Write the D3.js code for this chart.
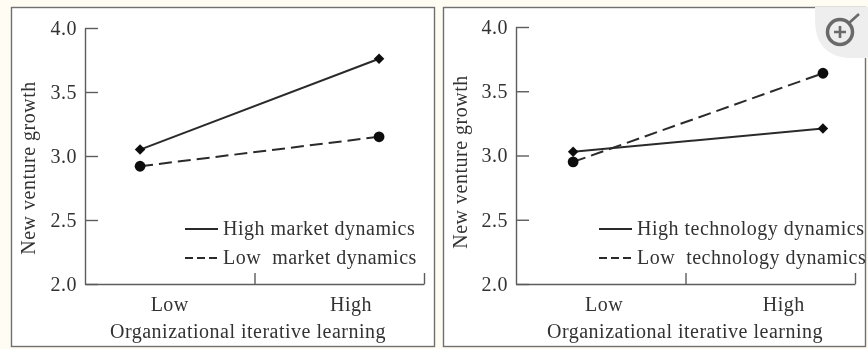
<!DOCTYPE html>
<html>
<head>
<meta charset="utf-8">
<script src="https://d3js.org/d3.v7.min.js"></script>
<style>
  html, body { margin: 0; padding: 0; background: #fffcf3; }
  svg { display: block; }
  text { font-family: "Liberation Serif", serif; fill: #333; letter-spacing: 0.5px; }
</style>
</head>
<body>
<div id="chart"></div>
<script>
const width = 868, height = 349;

const levels = ["Low", "High"];
const yTicks = [2.0, 2.5, 3.0, 3.5, 4.0];
const xTicks = [1, 2];

const marketPointPos = [0.325, 1.735];
const marketLabelPos = [0.5, 1.57];
const techPointPos = [0.337, 1.811];
const techLabelPos = [0.52, 1.58];

const marketHigh = [3.05, 3.76];
const marketLow = [2.92, 3.15];
const techHigh = [3.03, 3.21];
const techLow = [2.95, 3.64];

const marketLegend = ["High market dynamics", "Low  market dynamics"];
const techLegend = ["High technology dynamics", "Low  technology dynamics"];
const xTitle = "Organizational iterative learning";
const yTitle = "New venture growth";

const svg = d3.select("#chart").append("svg")
  .attr("width", width)
  .attr("height", height);

svg.append("defs").append("filter").attr("id", "soft")
  .append("feGaussianBlur").attr("stdDeviation", 0.55);

const root = svg.append("g").attr("filter", "url(#soft)");

function panel(cfg) {
  const g = root.append("g");

  g.append("rect")
    .attr("x", cfg.frame[0]).attr("y", cfg.frame[1])
    .attr("width", cfg.frame[2]).attr("height", cfg.frame[3])
    .attr("fill", "#fff").attr("stroke", "#6f6f6f").attr("stroke-width", 1.4);

  const x = d3.scaleLinear().domain([0, 2]).range(cfg.xRange);
  const y = d3.scaleLinear().domain([2, 4]).range([284, cfg.yTop]);

  const yAxis = g.append("g").attr("transform", `translate(${cfg.xRange[0]},0)`)
    .call(d3.axisLeft(y).tickValues(yTicks).tickFormat(d3.format(".1f")).tickSize(-13).tickSizeOuter(0));
  yAxis.selectAll("text").attr("x", -8).attr("font-size", 20).style("font-family", '"Liberation Serif", serif');

  g.append("g").attr("transform", "translate(0,284)")
    .call(d3.axisBottom(x).tickValues(xTicks).tickFormat("").tickSize(-11).tickSizeOuter(0));

  g.selectAll(".domain, .tick line").attr("stroke", "#5c5c5c").attr("stroke-width", 1.4);

  const line = d3.line().x((d, i) => x(cfg.pointPos[i])).y(d => y(d));

  g.append("path").attr("d", line(cfg.high))
    .attr("fill", "none").attr("stroke", "#2a2a2a").attr("stroke-width", 2);
  g.append("path").attr("d", line(cfg.low))
    .attr("fill", "none").attr("stroke", "#2a2a2a").attr("stroke-width", 2)
    .attr("stroke-dasharray", "13,6");

  g.selectAll(".hi").data(cfg.high).join("path")
    .attr("d", d3.symbol(d3.symbolDiamond2, 70))
    .attr("transform", (d, i) => `translate(${x(cfg.pointPos[i])},${y(d)})`)
    .attr("fill", "#111");
  g.selectAll(".lo").data(cfg.low).join("circle")
    .attr("cx", (d, i) => x(cfg.pointPos[i])).attr("cy", d => y(d))
    .attr("r", 5.4).attr("fill", "#111");

  g.selectAll(".lvl").data(levels).join("text")
    .attr("x", (d, i) => x(cfg.labelPos[i])).attr("y", 311)
    .attr("text-anchor", "middle").attr("font-size", 20).text(d => d);

  g.append("text")
    .attr("x", cfg.titleX).attr("y", 338)
    .attr("text-anchor", "middle").attr("font-size", 20).text(xTitle);

  g.append("text")
    .attr("transform", `translate(${cfg.yTitleX},${cfg.yTitleY}) rotate(-90)`)
    .attr("text-anchor", "middle").attr("font-size", 20).text(yTitle);

  cfg.legend.forEach((t, i) => {
    const ly = 229 + i * 29;
    g.append("line")
      .attr("x1", cfg.legX).attr("x2", cfg.legX + 33)
      .attr("y1", ly).attr("y2", ly)
      .attr("stroke", "#2a2a2a").attr("stroke-width", 1.9)
      .attr("stroke-dasharray", i ? "8,4" : null);
    g.append("text")
      .attr("x", cfg.legX + 38).attr("y", ly + 6)
      .attr("font-size", 20).style("white-space", "pre").text(t);
  });
}

panel({
  frame: [11.5, 7.5, 423, 339],
  xRange: [85, 424], yTop: 28,
  pointPos: marketPointPos, labelPos: marketLabelPos,
  high: marketHigh, low: marketLow, legend: marketLegend,
  legX: 185, titleX: 248, yTitleX: 35, yTitleY: 168
});

panel({
  frame: [443.5, 7.5, 422, 339],
  xRange: [516, 855], yTop: 27,
  pointPos: techPointPos, labelPos: techLabelPos,
  high: techHigh, low: techLow, legend: techLegend,
  legX: 599, titleX: 685, yTitleX: 467, yTitleY: 162
});

// zoom badge in the top right corner
const badge = root.append("g");
badge.append("path").attr("d", "M815,7H868V58H848Q815,55 815,20Z").attr("fill", "#eeeeee");
badge.append("circle").attr("cx", 840).attr("cy", 32).attr("r", 12.5)
  .attr("fill", "none").attr("stroke", "#6a6a6a").attr("stroke-width", 3.5);
badge.append("path").attr("d", "M849,23L859,14M834,32H846M840,26V38")
  .attr("stroke", "#6a6a6a").attr("stroke-width", 2.6).attr("fill", "none");
</script>
</body>
</html>
